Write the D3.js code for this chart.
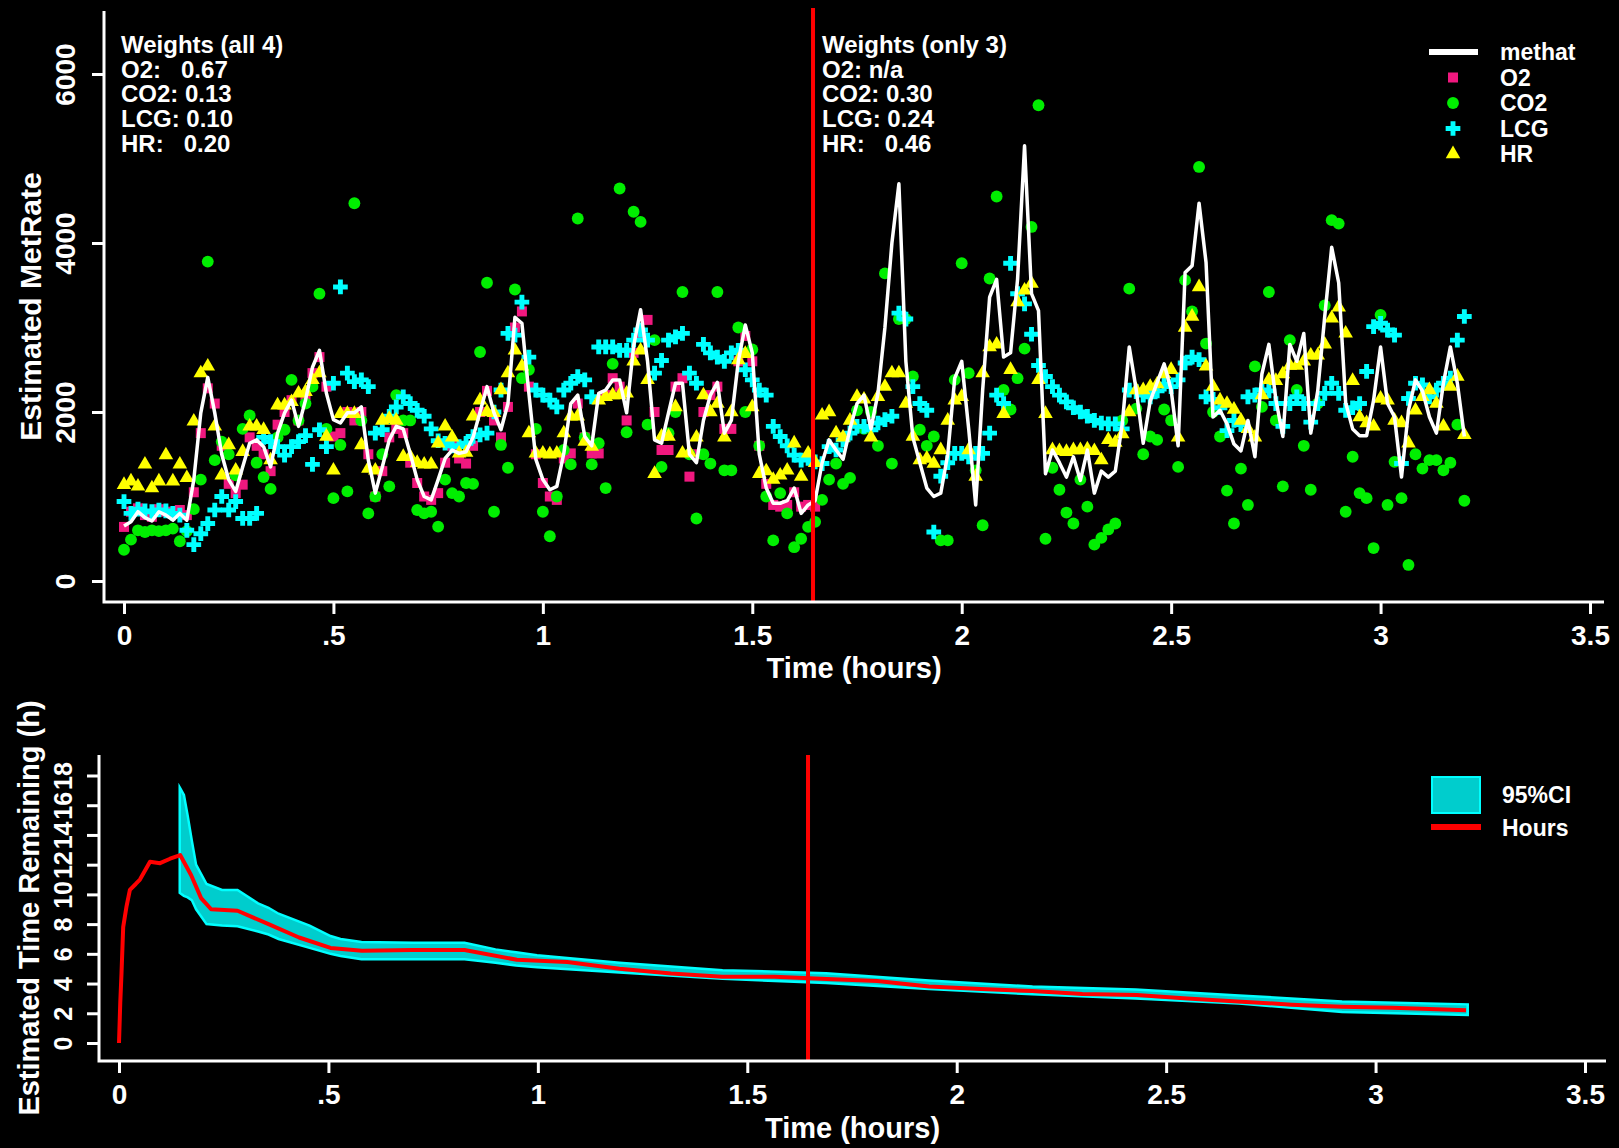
<!DOCTYPE html>
<html>
<head>
<meta charset="utf-8">
<script src="https://cdn.jsdelivr.net/npm/d3@7"></script>
<style>
  html, body { margin: 0; background: #000; overflow: hidden; }
  svg { display: block; background: #000; font-family: "Liberation Sans", Arial, sans-serif; font-weight: bold; }
  text { fill: #fff; white-space: pre; }
</style>
</head>
<body>
<svg id="chart"></svg>
<script>
// one sample per minute, time in hours = index / 60
const methat = [
    650, 700, 820, 750, 710, 820, 780, 720, 800, 720, 1200, 1990, 2410, 1990, 1500, 1200, 1060, 1350, 1630, 1670,
    1590, 1350, 1750, 1990, 2140, 1830, 2140, 2530, 2730, 2220, 1910, 1870, 1990, 1990, 2060, 1430, 1040, 1350, 1670, 1830,
    1800, 1510, 1200, 1000, 960, 1200, 1450, 1550, 1510, 1530, 1700, 2000, 2300, 1990, 1790, 2100, 3120, 3050, 2220, 1440,
    1200, 1080, 1120, 1510, 2100, 2200, 1710, 1600, 2220, 2260, 2380, 2380, 1990, 2780, 3210, 2600, 1670, 1630, 1990, 2340, 2340,
    1500, 1400, 1900, 2200, 2350, 1750, 1900, 2600, 3030, 2700, 1500, 1100, 920, 920, 950, 1100, 800, 900, 950, 1400,
    1670, 1550, 1440, 1800, 2100, 2200, 1800, 2220, 3000, 4000, 4700, 2600, 1700, 1400, 1100, 1000, 1040, 1500, 2400, 2600,
    1800, 900, 2260,
    3360, 3570, 2650, 2700, 3570, 5150, 3400, 3200, 1270, 1550, 1400, 1230, 1470, 1190, 1550, 1040, 1300, 1230, 1300, 1860,
    2770, 2260, 1630, 2130, 2350, 2570, 2260, 1600, 3650, 3730, 4470, 3770, 1940, 2020, 1860, 1620, 1540, 1900, 1470, 2450,
    2800, 2150, 1710, 2800, 2600, 2930, 1750, 2250, 3130, 3950, 3530, 2110, 1800, 1720, 1720, 2140, 2770, 2100, 1940, 1230,
    2020, 2380, 2250, 1940, 1750, 2340, 2770, 2340, 1710
]

const o2 = [
    640, 820, 860, 780, 760, 850, 820, 800, 840, 780, 1050, 1750, 2280, 2100, 1600, 1150, 1040, 1140, 1700, 1600,
    1500, 1300, 1850, 2000, 2140, 1900, 2200, 2460, 2650, 2300, 1710, 1750, 2000, 1900, 2000, 1500, 1000, 1300, 1700, 1800,
    1750, 1400, 1160, 1000, 960, 1040, 1400, 1600, 1450, 1390, 1600, 2000, 2250, 1900, 1700, 2060, 3000, 3190, 2300, 1500,
    1160, 1000, 960, 1450, 1510, 2100, 1700, 1510, 1510, 2200, 2400, 2300, 1900, 2700, 2900, 3090, 2000, 1550, 1550, 2300,
    2400, 1235, 1500, 2000, 2200, 2300, 1800, 1800, 2600, 2900, 2600, 1600, 1150, 900, 880, 900, 1050, 880, 900, 880
]

const co2 = [
    370, 490, 600, 580, 600, 590, 600, 620, 470, 590, 850, 1200, 3780, 1430, 1650, 1500, 1250, 1800, 1960, 1400,
    1230, 1090, 1700, 1790, 2380, 1900, 2100, 2300, 3400, 1800, 980, 1610, 1060, 4470, 1900, 800, 1000, 1500, 1120, 2200, 1900,
    1900, 840, 800, 820, 644, 1200, 1040, 1000, 1160, 1150, 2710, 3530, 820, 1610, 1340, 3450, 2400, 2500, 1800, 820,
    530, 1000, 1550, 1380, 4290, 1700, 1380, 1630, 1100, 2570, 4645, 1760, 4370, 4250, 1850, 2850, 1350, 1750, 2000, 3420,
    1500, 740,
    1500, 1390, 3420, 1310, 1310, 3000, 2000, 2740, 1600, 1000, 480, 1040, 800, 400, 500, 640, 700, 960, 1200, 1390,
    1150, 1220, 2020, 1800, 2000, 1600, 3640, 1390, 3100, 3100, 2420, 1790, 1600, 1710, 480, 480, 2380, 3760, 2460, 1310,
    660, 3580,
    4550, 2260, 2030, 2400, 2750, 4190, 5630, 500, 1340, 1080, 810, 680, 1200, 880, 430, 510, 610, 680, 1900, 3460,
    2040, 1500, 1710, 1670, 2030, 1900, 1350, 3560, 3190, 4900, 2810, 2000, 1710, 1070, 680, 1330, 900, 2540, 2060, 3420,
    1900,
    1120, 2850, 2260, 1600, 1080, 2100, 3260, 4270, 4230, 820, 1470, 1040, 980, 390, 3150, 900, 1410, 980, 190, 1500,
    1330, 1430, 1430, 1310, 1400, 1850, 950
]

const lcg = [
    940, 800, 850, 830, 820, 840, 830, 800, 780, 600, 430, 560, 680, 840, 1000, 840, 940, 740, 740, 800,
    1700, 1650, 1590, 1490, 1590, 1650, 1720, 1380, 1790, 1590, 2340, 3480, 2460, 2360, 2380, 2300, 1750, 1790, 1950, 2060, 2180,
    2100, 2020, 1950, 1800, 1660, 1630, 1600, 1590, 1630, 1710, 1730, 1750, 2000, 2260, 2930, 2910, 3300, 2650, 2260, 2200,
    2140, 2060, 2260, 2340, 2420, 2380, 2180, 2770, 2770, 2770, 2730, 2730, 2850, 2970, 2850, 2460, 2610, 2850, 2890, 2930,
    2460, 2340,
    2800, 2700, 2650, 2600, 2700, 2730, 2500, 2380, 2260, 2200, 1830, 1710, 1600, 1490, 1430, 1450, 1410, 1390, 1590, 1550,
    1670, 1750, 1830, 1830, 1790, 1870, 1910, 1950, 3170, 3100, 2300, 2100, 2020, 580, 1240, 1400, 1510, 1510, 1470, 1510,
    1510, 1750,
    2200, 2100, 3760, 3400, 3280, 2920, 2550, 2420, 2300, 2200, 2120, 2050, 2000, 1950, 1900, 1870, 1860, 1860, 1800, 2260,
    2240, 2200, 2180, 2250, 2330, 2300, 2380, 2580, 2650, 2620, 2180, 2150, 2050, 1780, 1900, 1850, 2180, 2200, 2260, 2250,
    2100,
    1830, 2100, 2180, 2100, 1880, 2100, 2220, 2340, 2220, 2020, 2050, 2100, 2480, 3010, 3050, 2970, 2910, 1390, 2160, 2340,
    2320, 2180, 2260, 2340, 2400, 2850, 3130
]

const hr = [
    1140, 1180, 1120, 1380, 1100, 1180, 1490, 1180, 1380, 1220, 1890, 2460, 2540, 1830, 1250, 1610, 1310, 1530, 1830, 1830,
    1790, 1430, 2080, 2080, 2120, 2220, 2240, 2380, 2460, 1710, 1310, 1980, 1980, 1980, 1610, 1330, 1310, 1900, 1920, 1900, 1470,
    1470, 1400, 1380, 1380, 1630, 1830, 1700, 1510, 1520, 1950, 2140, 2000, 1990, 2260, 2460, 2730, 2540, 1750, 1510, 1510,
    1500, 1510, 1750, 1950, 1950, 1650, 1590, 2140, 2180, 2200, 2200, 2220, 2600, 2730, 2380, 1270, 1710, 1710, 2060, 1510,
    1520, 1700,
    2200, 2000, 2100, 1700, 2000, 2615, 2690, 2060, 1270, 1300, 1200, 1250, 1310, 1630, 1235, 1510, 1400, 1960, 2000, 1750,
    1700, 1900, 2180, 2150, 1700, 2180, 2300, 2460, 2460, 2100, 1710, 1430, 1450, 1390, 1550,
    1900, 2140, 2180, 1550, 1235, 2460, 2770, 2800, 1980, 2500, 3300, 3440, 3520, 2380, 1980, 1550, 1540, 1530, 1550, 1550,
    1560, 1540, 1430, 1670, 1640, 1740, 2000, 2260, 2260, 2300, 2330, 2450, 2500, 1700, 3000, 3130, 3480, 2540, 2300, 2140,
    2100, 2030, 1900, 1800, 1700, 2200, 2380, 2370,
    2450, 2550, 2550, 2600, 2670, 2670, 2800, 3110, 3240, 2930, 2370, 1940, 1870, 1830, 2160, 2140, 1900, 1870, 1630, 2020,
    2180, 2260, 2100, 1830, 2300, 2420, 1730
]

// lower panel: estimated hours remaining and its 95% interval
const hoursTime = [0, 0.003, 0.006, 0.01, 0.018, 0.026, 0.04, 0.05, 0.074, 0.098, 0.122, 0.146, 0.172, 0.196, 0.22, 0.283,
    0.357, 0.43, 0.505, 0.58, 0.7, 0.825, 0.95, 1.07, 1.195, 1.318, 1.44, 1.565, 1.69, 1.81, 1.934, 2.057, 2.18, 2.3, 2.43,
    2.55, 2.67, 2.8, 2.92, 3.04, 3.216]
const hoursValue = [0, 2.7, 4.7, 7.8, 9.2, 10.3, 10.7, 11.0, 12.2, 12.1, 12.4, 12.65, 11.3, 9.75, 9.0, 8.9,
    8.0, 7.1, 6.4, 6.2, 6.26, 6.26, 5.6, 5.45, 5.0, 4.67, 4.45, 4.45, 4.3, 4.17, 3.8, 3.63, 3.5, 3.3, 3.23,
    3.0, 2.8, 2.58, 2.44, 2.37, 2.2]

const ciTime = [0.145, 0.155, 0.164, 0.174, 0.184, 0.209, 0.246, 0.283, 0.332, 0.357, 0.381, 0.455, 0.505, 0.529, 0.579,
    0.702, 0.825, 0.899, 0.948, 0.998, 1.195, 1.441, 1.688, 1.934, 2.181, 2.427, 2.674, 2.92, 3.22]
const ciUpper = [17.2, 16.7, 15.3, 13.6, 12.0, 10.7, 10.3, 10.3, 9.4, 9.1, 8.7, 7.9, 7.2, 7.0, 6.8,
    6.75, 6.75, 6.3, 6.1, 5.9, 5.4, 4.9, 4.7, 4.2, 3.8, 3.6, 3.2, 2.8, 2.6]
const ciLower = [10.1, 9.9, 9.8, 9.6, 9.0, 8.0, 7.9, 7.86, 7.5, 7.3, 7.0, 6.4, 6.0, 5.85, 5.64,
    5.64, 5.64, 5.4, 5.22, 5.1, 4.74, 4.32, 4.04, 3.63, 3.28, 3.0, 2.65, 2.09, 1.88]

const hourTicks = [0, 0.5, 1, 1.5, 2, 2.5, 3, 3.5]
const rateTicks = [0, 2000, 4000, 6000]
const remainTicks = [0, 2, 4, 6, 8, 10, 12, 14, 16, 18]
const splitTime = 1.645

const weightsAll = ["Weights (all 4)", "O2:   0.67", "CO2: 0.13", "LCG: 0.10", "HR:   0.20"]
const weightsThree = ["Weights (only 3)", "O2: n/a", "CO2: 0.30", "LCG: 0.24", "HR:   0.46"]
const seriesNames = ["methat", "O2", "CO2", "LCG", "HR"]
const bandNames = ["95%CI", "Hours"]

const
    width = 1619,
    height = 1148,
    upperBox = { left: 104, right: 1604, top: 11, bottom: 602 },
    lowerBox = { left: 99, right: 1606, top: 755, bottom: 1061 },
    colors = { O2: "#f0187f", CO2: "#00ee00", LCG: "#00ffff", HR: "#ffff00" }

const time = i => i / 60

const xTop = d3.scaleLinear().domain([0, 3.5]).range([124, 1590])
const yRate = d3.scaleLinear().domain([0, 6000]).range([581, 74])
const xBot = d3.scaleLinear().domain([0, 3.5]).range([119, 1585])
const yRemain = d3.scaleLinear().domain([0, 18]).range([1043, 775.5])

const hourFormat = d => d === 0 ? "0" : d3.format("~g")(d).replace(/^0\./, ".")

const symbols = {
    O2: d3.symbol(d3.symbolSquare, 100),
    CO2: d3.symbol(d3.symbolCircle, 110),
    LCG: d3.symbol(d3.symbolCross, 120),
    HR: d3.symbol(d3.symbolTriangle, 92)
}

const svg = d3.select("#chart")
    .attr("width", width)
    .attr("height", height)
    .attr("viewBox", [0, 0, width, height])

function xAxis(g, x, y) {
    g.attr("transform", `translate(0,${y})`)
        .call(d3.axisBottom(x).tickValues(hourTicks).tickFormat(hourFormat).tickSize(12).tickPadding(11).tickSizeOuter(0))
        .attr("font-family", null).attr("font-size", null)
        .call(g => g.select(".domain").remove())
        .call(g => g.selectAll("line").attr("stroke", "#fff").attr("stroke-width", 3))
        .call(g => g.selectAll("text").attr("fill", "#fff").attr("font-size", 28))
}

function yAxis(g, y, x, ticks, size, offset) {
    g.attr("transform", `translate(${x},0)`)
        .call(d3.axisLeft(y).tickValues(ticks).tickFormat(d3.format("d")).tickSize(12).tickSizeOuter(0))
        .attr("font-family", null).attr("font-size", null)
        .call(g => g.select(".domain").remove())
        .call(g => g.selectAll("line").attr("stroke", "#fff").attr("stroke-width", 3))
        .call(g => g.selectAll("text")
            .attr("fill", "#fff")
            .attr("font-size", size)
            .attr("transform", "rotate(-90)")
            .attr("x", 0).attr("y", -offset).attr("dy", 0)
            .attr("text-anchor", "middle"))
}

function box(g, b) {
    g.append("path")
        .attr("d", `M${b.left},${b.top}V${b.bottom}H${b.right}`)
        .attr("fill", "none")
        .attr("stroke", "#fff")
        .attr("stroke-width", 3)
}

// ---- upper panel ----
const rateG = svg.append("g").attr("class", "metrate")

const pointSets = [
    { name: "O2", values: o2 },
    { name: "CO2", values: co2 },
    { name: "LCG", values: lcg },
    { name: "HR", values: hr }
]

pointSets.forEach(s => {
    rateG.append("g")
        .attr("fill", colors[s.name])
        .selectAll("path")
        .data(s.values)
        .join("path")
        .attr("transform", (d, i) => `translate(${xTop(time(i))},${yRate(d)})`)
        .attr("d", symbols[s.name]())
})

rateG.append("path")
    .datum(methat)
    .attr("fill", "none")
    .attr("stroke", "#fff")
    .attr("stroke-width", 3.5)
    .attr("stroke-linejoin", "round")
    .attr("d", d3.line().x((d, i) => xTop(time(i))).y(d => yRate(d)))

rateG.append("line")
    .attr("x1", xTop(splitTime)).attr("x2", xTop(splitTime))
    .attr("y1", 8).attr("y2", upperBox.bottom)
    .attr("stroke", "#ff0000").attr("stroke-width", 4)

box(rateG, upperBox)
rateG.append("g").call(xAxis, xTop, upperBox.bottom)
rateG.append("g").call(yAxis, yRate, upperBox.left, rateTicks, 28, 29)

rateG.append("text")
    .attr("x", (upperBox.left + upperBox.right) / 2).attr("y", 678)
    .attr("text-anchor", "middle").attr("font-size", 29)
    .text("Time (hours)")

rateG.append("text")
    .attr("transform", `translate(41,${(upperBox.top + upperBox.bottom) / 2}) rotate(-90)`)
    .attr("text-anchor", "middle").attr("font-size", 30)
    .text("Estimated MetRate")

function weightBlock(lines, x) {
    rateG.append("g")
        .selectAll("text")
        .data(lines)
        .join("text")
        .attr("x", x)
        .attr("y", (d, i) => 53 + i * 24.7)
        .attr("font-size", 24)
        .text(d => d)
}
weightBlock(weightsAll, 121)
weightBlock(weightsThree, 822)

const legend = rateG.append("g").attr("class", "legend")
seriesNames.forEach((name, i) => {
    const y = 52 + i * 25.5
    if (name === "methat") {
        legend.append("line")
            .attr("x1", 1429).attr("x2", 1478).attr("y1", y).attr("y2", y)
            .attr("stroke", "#fff").attr("stroke-width", 6)
    } else {
        legend.append("path")
            .attr("transform", `translate(1453,${y})`)
            .attr("fill", colors[name])
            .attr("d", symbols[name]())
    }
    legend.append("text")
        .attr("x", 1500).attr("y", y + 8)
        .attr("font-size", 23)
        .text(name)
})

// ---- lower panel ----
const remainG = svg.append("g").attr("class", "remaining")

const band = ciTime.map((t, i) => ({ t, lo: ciLower[i], hi: ciUpper[i] }))

remainG.append("path")
    .datum(band)
    .attr("fill", "#00cdcd")
    .attr("stroke", "#00ffff")
    .attr("stroke-width", 2.5)
    .attr("d", d3.area().x(d => xBot(d.t)).y0(d => yRemain(d.lo)).y1(d => yRemain(d.hi)))

remainG.append("path")
    .datum(hoursTime.map((t, i) => [t, hoursValue[i]]))
    .attr("fill", "none")
    .attr("stroke", "#ff0000")
    .attr("stroke-width", 4)
    .attr("stroke-linejoin", "round")
    .attr("d", d3.line().x(d => xBot(d[0])).y(d => yRemain(d[1])))

remainG.append("line")
    .attr("x1", xBot(splitTime)).attr("x2", xBot(splitTime))
    .attr("y1", lowerBox.top).attr("y2", lowerBox.bottom)
    .attr("stroke", "#ff0000").attr("stroke-width", 4)

box(remainG, lowerBox)
remainG.append("g").call(xAxis, xBot, lowerBox.bottom)
remainG.append("g").call(yAxis, yRemain, lowerBox.left, remainTicks, 25, 27)

remainG.append("text")
    .attr("x", (lowerBox.left + lowerBox.right) / 2).attr("y", 1138)
    .attr("text-anchor", "middle").attr("font-size", 29)
    .text("Time (hours)")

remainG.append("text")
    .attr("transform", `translate(39,${(lowerBox.top + lowerBox.bottom) / 2}) rotate(-90)`)
    .attr("text-anchor", "middle").attr("font-size", 29)
    .text("Estimated Time Remaining (h)")

const legend2 = remainG.append("g").attr("class", "legend")
legend2.append("rect")
    .attr("x", 1432).attr("y", 777).attr("width", 48).attr("height", 36)
    .attr("fill", "#00cdcd").attr("stroke", "#00ffff").attr("stroke-width", 2)
legend2.append("line")
    .attr("x1", 1431).attr("x2", 1481).attr("y1", 827).attr("y2", 827)
    .attr("stroke", "#ff0000").attr("stroke-width", 6)
legend2.selectAll("text")
    .data(bandNames)
    .join("text")
    .attr("x", 1502)
    .attr("y", (d, i) => 803 + i * 33)
    .attr("font-size", 23)
    .text(d => d)
</script>
</body>
</html>
